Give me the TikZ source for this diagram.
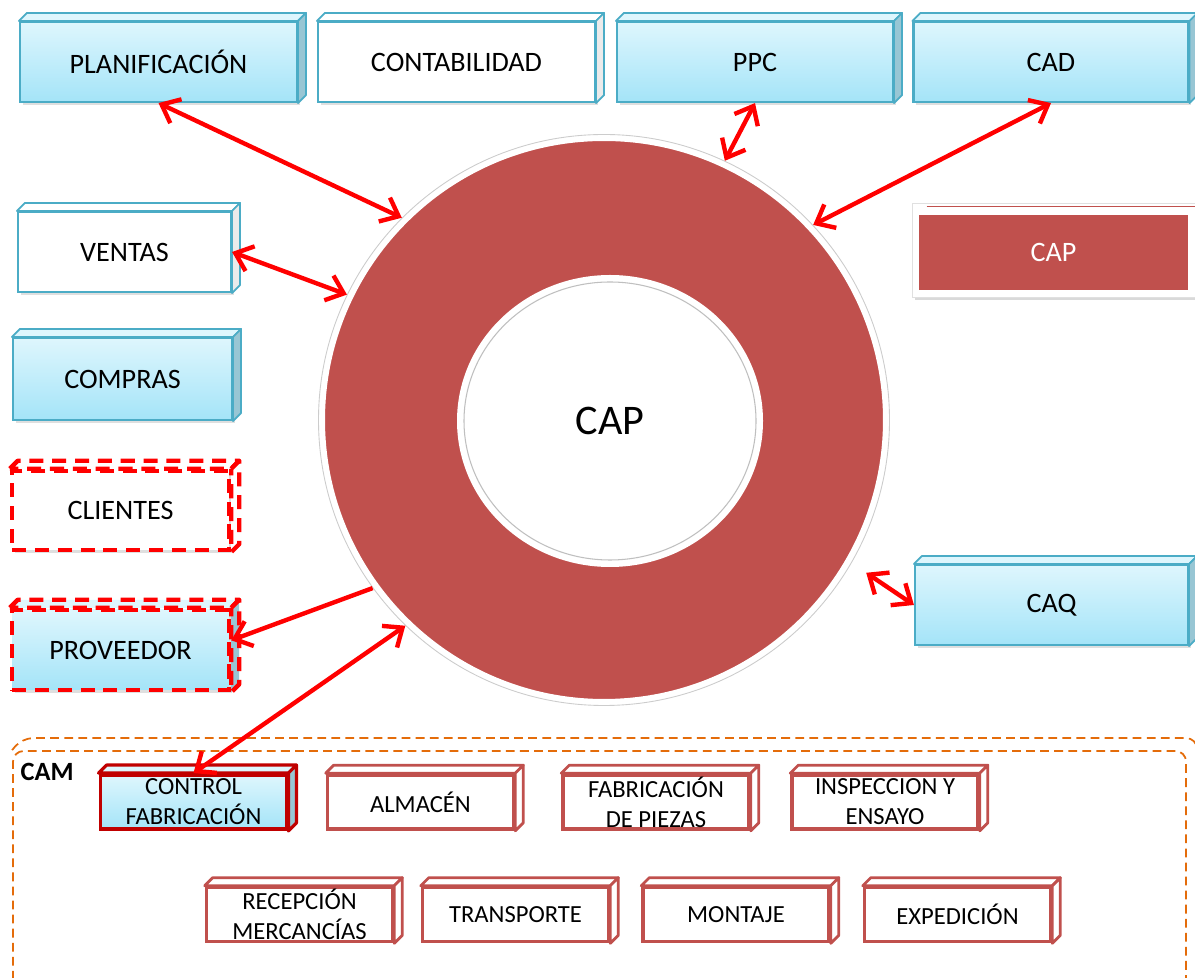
\documentclass[tikz,border=0pt]{standalone}
\usepackage{fontspec}
\setmainfont{Carlito}
\usepackage{tikz}
\usetikzlibrary{shapes,arrows,positioning,calc,arrows.meta,shadows}

\definecolor{capred}{RGB}{192,80,77}
\definecolor{boxline}{RGB}{75,172,198}
\definecolor{boxtop}{RGB}{222,246,253}
\definecolor{boxbot}{RGB}{164,228,248}
\definecolor{sidecol}{RGB}{152,198,212}
\definecolor{camorange}{RGB}{228,108,10}
\definecolor{darkred}{RGB}{192,0,0}

% top and right faces of a box node: #1 node, #2 top face style, #3 side face style
\newcommand{\boxfaces}[3]{%
  \filldraw[#2] (#1.north west) -- ($(#1.north west)+(0.16,0.16)$) -- ($(#1.north east)+(0.16,0.16)$) -- (#1.north east) -- cycle;
  \filldraw[#3] (#1.north east) -- ($(#1.north east)+(0.16,0.16)$) -- ($(#1.south east)+(0.16,0.16)$) -- (#1.south east) -- cycle;
}

\begin{document}
\begin{tikzpicture}[auto,
	arr/.style={{Straight Barb[length=9pt,width=15pt]}-{Straight Barb[length=9pt,width=15pt]}, line width=2.5pt, red},
	arr1/.style={-{Straight Barb[length=9pt,width=15pt]}, line width=2.5pt, red},
	box/.style={rectangle, draw=boxline, line width=1.2pt, minimum height=1.6cm, font=\fontsize{16}{19}\selectfont,
		drop shadow={opacity=0.25, shadow xshift=1.5pt, shadow yshift=-1.5pt}},
	bluebox/.style={box, top color=boxtop, bottom color=boxbot},
	whitebox/.style={box, fill=white},
	dashbox/.style={box, draw=red, line width=2.5pt, dash pattern=on 8pt off 5pt},
	camitem/.style={rectangle, draw=capred, line width=2pt, fill=white, minimum width=3.72cm, minimum height=1.08cm,
		align=center, inner sep=0pt, font=\fontsize{14}{17}\selectfont,
		drop shadow={opacity=0.2, shadow xshift=1pt, shadow yshift=-1pt}},
	topblue/.style={fill=boxtop, draw=boxline, line width=1pt, line join=round},
	sideblue/.style={fill=sidecol, draw=boxline, line width=1pt, line join=round},
	topwhite/.style={fill=white, draw=boxline, line width=1pt, line join=round},
	sidewhite/.style={fill=black!8, draw=boxline, line width=1pt, line join=round},
	dashface/.style={fill=white, draw=red, line width=2.5pt, dash pattern=on 8pt off 5pt, line join=round},
	camface/.style={fill=white, draw=capred, line width=1.6pt, line join=round}]

    \useasboundingbox (0,0) rectangle (23.9cm,19.54cm);

    % CAM area
    \node (CAM) at (11.99cm,2.03cm) [rectangle, rounded corners=6pt, draw=camorange, line width=1pt, dash pattern=on 5pt off 3pt,
    	minimum width=23.46cm, minimum height=4.98cm] {};
    \draw [camorange, line width=1pt, dash pattern=on 5pt off 3pt, rounded corners=6pt]
    	(CAM.north west) -- ($(CAM.north west)+(0.2,0.24)$) -- ($(CAM.north east)+(0.2,0.24)$) -- ($(CAM.south east)+(0.2,0.24)$);
    \node at ($(CAM.north west)+(0.7cm,-0.44cm)$) {\fontsize{15}{18}\selectfont\bfseries CAM};

    % CAP ring
    \node (CAP_ring) at (12.08cm,11.14cm) [circle, fill=capred, draw=white, line width=4pt, minimum size=11.3cm] {};
    \draw [black!20, line width=0.5pt] (CAP_ring.center) circle [radius=5.71cm];
    \node (CAP_hole) at (12.20cm,11.12cm) [ellipse, fill=white, minimum width=6.12cm, minimum height=5.84cm] {};
    \draw [black!25, line width=0.6pt] (CAP_hole.center) ellipse [x radius=2.92cm, y radius=2.78cm];
    \node at (CAP_hole.center) {\fontsize{24}{28}\selectfont CAP};

    % top row
    \node (PLAN) at (3.17cm,18.30cm) [bluebox, minimum width=5.54cm] {PLANIFICACIÓN};
    \boxfaces{PLAN}{topblue}{sideblue}
    \node (CONT) at (9.13cm,18.30cm) [whitebox, minimum width=5.54cm] {CONTABILIDAD};
    \boxfaces{CONT}{topwhite}{sidewhite}
    \node (PPC) at (15.10cm,18.30cm) [bluebox, minimum width=5.52cm] {PPC};
    \boxfaces{PPC}{topblue}{sideblue}
    \node (CAD) at (21.02cm,18.30cm) [bluebox, minimum width=5.5cm] {CAD};
    \boxfaces{CAD}{topblue}{sideblue}

    % left column
    \node (VENTAS) at (2.49cm,14.50cm) [whitebox, minimum width=4.26cm] {VENTAS};
    \boxfaces{VENTAS}{topwhite}{sidewhite}
    \node (COMPRAS) at (2.45cm,11.96cm) [bluebox, minimum width=4.38cm, minimum height=1.64cm] {COMPRAS};
    \boxfaces{COMPRAS}{topblue}{sideblue}
    \node (CLIENTES) at (2.41cm,9.33cm) [dashbox, fill=white, minimum width=4.34cm, minimum height=1.58cm] {CLIENTES};
    \boxfaces{CLIENTES}{dashface}{dashface}
    \node (PROV) at (2.41cm,6.54cm) [dashbox, top color=boxtop, bottom color=boxbot, minimum width=4.34cm] {PROVEEDOR};
    \boxfaces{PROV}{dashface, fill=boxtop}{dashface, fill=sidecol}

    % right column
    \node (CAP_key) at (21.12cm,14.54cm) [rectangle, fill=white, draw=black!12, minimum width=5.76cm, minimum height=1.88cm,
    	drop shadow={opacity=0.3, shadow xshift=1.5pt, shadow yshift=-1.5pt}] {};
    \node (CAP_box) at (21.07cm,14.49cm) [rectangle, fill=capred, minimum width=5.38cm, minimum height=1.5cm, text=white,
    	font=\fontsize{16}{19}\selectfont] {CAP};
    \draw [capred, line width=0.6pt] ($(CAP_box.north west)+(0.16,0.16)$) -- ($(CAP_box.north east)+(0.16,0.16)$);
    \node (CAQ) at (21.03cm,7.44cm) [bluebox, minimum width=5.46cm] {CAQ};
    \boxfaces{CAQ}{topblue}{sideblue}

    % CAM items
    \node (CF) at (3.87cm,3.50cm) [camitem, draw=darkred, line width=2.2pt, top color=boxtop, bottom color=boxbot] {CONTROL\\FABRICACIÓN};
    \boxfaces{CF}{camface, draw=darkred, line width=1.8pt, fill=boxtop}{camface, draw=darkred, line width=1.8pt, fill=sidecol}
    \node (ALM) at (8.41cm,3.50cm) [camitem] {ALMACÉN};
    \boxfaces{ALM}{camface}{camface}
    \node (FAB) at (13.12cm,3.50cm) [camitem] {FABRICACIÓN\\DE PIEZAS};
    \boxfaces{FAB}{camface}{camface}
    \node (INSP) at (17.70cm,3.50cm) [camitem] {INSPECCION Y\\ENSAYO};
    \boxfaces{INSP}{camface}{camface}
    \node (REC) at (5.99cm,1.25cm) [camitem] {RECEPCIÓN\\MERCANCÍAS};
    \boxfaces{REC}{camface}{camface}
    \node (TRANS) at (10.31cm,1.25cm) [camitem] {TRANSPORTE};
    \boxfaces{TRANS}{camface}{camface}
    \node (MONT) at (14.72cm,1.25cm) [camitem] {MONTAJE};
    \boxfaces{MONT}{camface}{camface}
    \node (EXP) at (19.15cm,1.25cm) [camitem] {EXPEDICIÓN};
    \boxfaces{EXP}{camface}{camface}

    % links to CAP
    \draw [arr] (PLAN.south) -- (CAP_ring.135);
    \draw [arr] (PPC.south) -- (CAP_ring.65);
    \draw [arr] (CAD.south) -- (CAP_ring.43);
    \draw [arr] (VENTAS.east) -- (CAP_ring.154);
    \draw [arr, shorten >=0.35cm] (CAQ.west) -- (CAP_ring.-30);
    \draw [arr1] (CAP_ring.216) -- (PROV.5);
    \draw [arr] (CAP_ring.226) -- (CF.north);

\end{tikzpicture}
\end{document}
